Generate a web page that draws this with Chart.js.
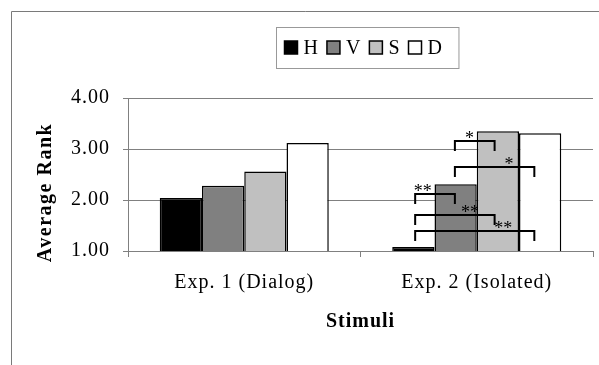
<!DOCTYPE html>
<html>
<head>
<meta charset="utf-8">
<script src="https://cdn.jsdelivr.net/npm/chart.js@4/dist/chart.umd.min.js"></script>
<style>
  html, body { margin: 0; padding: 0; background: #fff; }
  #wrap { width: 599px; height: 365px; }
</style>
</head>
<body>
<div id="wrap"><canvas id="rankchart"></canvas></div>
<script>
// data
var categories = ["Exp. 1 (Dialog)", "Exp. 2 (Isolated)"];
var seriesNames = ["H", "V", "S", "D"];
var hValues = [2.04, 1.08];
var vValues = [2.28, 2.31];
var sValues = [2.56, 3.35];
var dValues = [3.12, 3.31];
var yTicks = [1, 2, 3, 4];

// significance brackets (Exp. 2): pairs of series, height, label
var bracketFrom = [1, 1, 0, 0, 0];
var bracketTo = [2, 3, 1, 2, 3];
var bracketLevel = [3.16, 2.65, 2.12, 1.70, 1.40];
var bracketText = ["*", "*", "**", "**", "**"];

var FONT = "'Liberation Serif', 'Times New Roman', serif";
var barColors = ["#000000", "#808080", "#c0c0c0", "#ffffff"];
var labelAt = [0.37, 0.68, 0.19, 0.69, 0.74]; // where the stars sit along each bracket

var seriesValues = [hValues, vValues, sValues, dValues];

var decorPlugin = {
    id: "decor",
    beforeDraw: function(chart) {
        var ctx = chart.ctx;
        ctx.save();
        ctx.fillStyle = "#fff";
        ctx.fillRect(0, 0, chart.width, chart.height);
        ctx.restore();
        ctx.letterSpacing = "1px";
    },
    afterDatasetsDraw: function(chart) {
        var ctx = chart.ctx;
        var yScale = chart.scales.y;
        var cat = 1;
        var metas = [0, 1, 2, 3].map(function(i) { return chart.getDatasetMeta(i); });
        var xs = metas.map(function(m) { return m.data[cat].x; });
        var mid = (xs[0] + xs[3]) / 2;
        function endX(i) { return mid + (xs[i] - mid) * 0.94 - 2; }
        ctx.save();
        ctx.strokeStyle = "#000";
        ctx.lineWidth = 2;
        ctx.fillStyle = "#000";
        ctx.letterSpacing = "0px";
        ctx.font = "18px " + FONT;
        ctx.textAlign = "center";
        ctx.textBaseline = "alphabetic";
        for (var b = 0; b < bracketLevel.length; b++) {
            var x1 = endX(bracketFrom[b]);
            var x2 = endX(bracketTo[b]);
            var y = Math.round(yScale.getPixelForValue(bracketLevel[b]));
            ctx.beginPath();
            ctx.moveTo(x1, y + 10);
            ctx.lineTo(x1, y);
            ctx.lineTo(x2, y);
            ctx.lineTo(x2, y + 10);
            ctx.stroke();
            ctx.fillText(bracketText[b], x1 + (x2 - x1) * labelAt[b], y + 3);
        }
        ctx.restore();
    },
    afterDraw: function(chart) {
        var ctx = chart.ctx;
        var area = chart.chartArea;
        ctx.save();

        // outer frame (top and left edges only)
        ctx.strokeStyle = "#7a7a7a";
        ctx.lineWidth = 1;
        ctx.beginPath();
        ctx.moveTo(11.5, chart.height);
        ctx.lineTo(11.5, 11.5);
        ctx.lineTo(chart.width, 11.5);
        ctx.stroke();

        // y axis title
        ctx.save();
        ctx.translate(51, (area.top + area.bottom) / 2 + 18);
        ctx.rotate(-Math.PI / 2);
        ctx.letterSpacing = "1.5px";
        ctx.font = "bold 20px " + FONT;
        ctx.fillStyle = "#000";
        ctx.textAlign = "center";
        ctx.textBaseline = "alphabetic";
        ctx.fillText("Average Rank", 0, 0);
        ctx.restore();

        // legend
        ctx.font = "20px " + FONT;
        ctx.letterSpacing = "1px";
        var box = 13, gap = 6, step = 8;
        var widths = seriesNames.map(function(n) { return ctx.measureText(n).width; });
        var total = 0;
        widths.forEach(function(w) { total += box + gap + w + step; });
        total -= step;
        var boxL = Math.round((area.left + area.right) / 2 + 7 - (total + 24) / 2) + 0.5;
        var boxT = 27.5, boxH = 41;
        ctx.strokeStyle = "#999";
        ctx.lineWidth = 1;
        ctx.strokeRect(boxL, boxT, total + 24, boxH);
        var x = boxL + 8;
        var cy = 47.5;
        for (var i = 0; i < seriesNames.length; i++) {
            var ds = chart.data.datasets[i];
            ctx.fillStyle = ds.backgroundColor;
            ctx.fillRect(x, cy - 6.5, box, box);
            ctx.strokeStyle = "#000";
            ctx.lineWidth = 1.5;
            ctx.strokeRect(x, cy - 6.5, box, box);
            ctx.fillStyle = "#000";
            ctx.textAlign = "left";
            ctx.textBaseline = "alphabetic";
            ctx.fillText(seriesNames[i], x + box + gap, cy + 6.5);
            x += box + gap + widths[i] + step;
        }
        ctx.restore();
        ctx.letterSpacing = "0px";
    }
};

var ctx = document.getElementById("rankchart").getContext("2d");
var chart = new Chart(ctx, {
    type: "bar",
    data: {
        labels: categories,
        datasets: seriesNames.map(function(name, i) {
            return {
                label: name,
                data: seriesValues[i],
                backgroundColor: barColors[i],
                borderColor: "#000",
                borderWidth: 1.5,
                barPercentage: 1,
                categoryPercentage: 0.727
            };
        })
    },
    options: {
        responsive: true,
        maintainAspectRatio: false,
        animation: false,
        layout: { padding: { top: 98, right: 6, left: 0, bottom: 0 } },
        plugins: {
            legend: { display: false },
            tooltip: { enabled: false }
        },
        scales: {
            x: {
                grid: {
                    drawOnChartArea: false,
                    drawTicks: true,
                    tickLength: 6,
                    color: "#808080"
                },
                border: { color: "#808080", width: 1 },
                ticks: {
                    color: "#000",
                    padding: 14,
                    font: { family: FONT, size: 20 }
                },
                title: {
                    display: true,
                    text: "Stimuli",
                    color: "#000",
                    font: { family: FONT, size: 20, weight: "bold" },
                    padding: { top: 0, bottom: 31 }
                },
                afterFit: function(scale) { scale.height = 114; }
            },
            y: {
                min: 1,
                max: 4,
                afterBuildTicks: function(scale) {
                    scale.ticks = yTicks.map(function(v) { return { value: v }; });
                },
                grid: { color: "#808080", tickLength: 5 },
                border: { color: "#808080", width: 1 },
                ticks: {
                    color: "#000",
                    padding: 13,
                    font: { family: FONT, size: 20 },
                    callback: function(v) { return Number(v).toFixed(2); }
                },
                afterFit: function(scale) { scale.width = 128; }
            }
        }
    },
    plugins: [decorPlugin]
});
</script>
</body>
</html>
